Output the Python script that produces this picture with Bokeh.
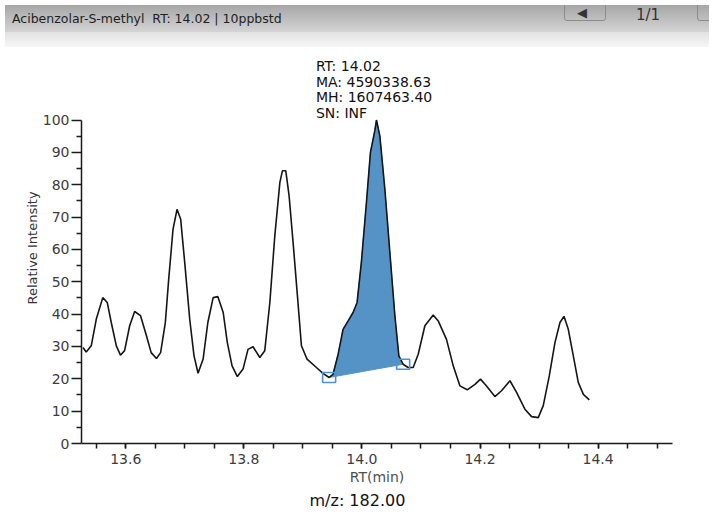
from bokeh.plotting import figure
from bokeh.models import Range1d, FixedTicker, PrintfTickFormatter, Title, Div
from bokeh.layouts import column
from bokeh.embed import file_html
from bokeh.resources import INLINE
from bokeh.core.properties import value

# ---------------- data ----------------
rt = [13.5275, 13.533, 13.5415, 13.550, 13.561, 13.5686, 13.5754, 13.584, 13.591, 13.598,
      13.6066, 13.615, 13.625, 13.635, 13.643, 13.652, 13.659, 13.667, 13.6727, 13.680,
      13.6868, 13.693, 13.6998, 13.7083, 13.7156, 13.7224, 13.731, 13.739, 13.748, 13.756,
      13.765, 13.772, 13.780, 13.789, 13.7986, 13.807, 13.8156, 13.827, 13.8354, 13.844,
      13.8524, 13.861, 13.8653, 13.871, 13.8766, 13.8834, 13.8907, 13.8975, 13.907, 13.9229,
      13.934, 13.9444, 13.951, 13.9597, 13.968, 13.9766, 13.985, 13.9918, 13.999, 14.0076,
      14.0144, 14.0218, 14.0246, 14.0303, 14.0388, 14.0473, 14.0558, 14.0625, 14.0698, 14.0783,
      14.0868, 14.0953, 14.1066, 14.1207, 14.1292, 14.1432, 14.1546, 14.166, 14.1783, 14.1914,
      14.2008, 14.211, 14.2252, 14.2364, 14.2507, 14.2619, 14.276, 14.2873, 14.2986, 14.3071,
      14.3173, 14.3269, 14.3354, 14.3422, 14.3495, 14.358, 14.3664, 14.375, 14.3851]
intensity = [29.7, 28.3, 30.2, 38.4, 45.1, 43.6, 37.4, 30.2, 27.3, 28.7,
             36.4, 40.8, 39.5, 33.3, 28.1, 26.3, 28.1, 37.4, 50.8, 66.2,
             72.4, 69.3, 56.0, 38.4, 27.1, 21.7, 26.1, 37.4, 45.1, 45.4,
             40.5, 31.2, 24.0, 20.7, 23.0, 29.1, 29.9, 26.6, 28.7, 43.6,
             64.2, 80.7, 84.3, 84.3, 76.6, 62.1, 45.7, 30.2, 26.1, 23.5,
             21.7, 20.4, 21.4, 27.6, 35.3, 37.9, 40.5, 43.6, 56.0, 74.5,
             90.0, 96.7, 100.0, 95.1, 78.6, 59.0, 39.5, 27.1, 24.5, 23.5,
             23.5, 27.6, 36.4, 39.7, 37.9, 32.2, 24.0, 17.8, 16.6, 18.3,
             19.9, 17.8, 14.5, 16.3, 19.4, 15.8, 10.6, 8.3, 8.0, 11.7,
             20.9, 31.2, 37.4, 39.3, 35.3, 27.1, 18.9, 15.2, 13.5]

peak_start_rt, peak_start_int = 13.9444, 20.4
peak_end_rt, peak_end_int = 14.0698, 24.5

x_major_ticks = [13.6, 13.8, 14.0, 14.2, 14.4]
x_minor_ticks = [13.55, 13.6, 13.65, 13.7, 13.75, 13.8, 13.85, 13.9, 13.95, 14.0,
                 14.05, 14.1, 14.15, 14.2, 14.25, 14.3, 14.35, 14.4, 14.45, 14.5]
y_major_ticks = [0, 10, 20, 30, 40, 50, 60, 70, 80, 90, 100]
y_minor_ticks = [5, 15, 25, 35, 45, 55, 65, 75, 85, 95]

annotation_lines = ["RT: 14.02", "MA: 4590338.63", "MH: 1607463.40", "SN: INF"]
header_text = "Acibenzolar-S-methyl&nbsp;&nbsp;RT: 14.02 | 10ppbstd"
page_text = "1/1"
mz_text = "m/z: 182.00"
x_label = "RT(min)"
y_label = "Relative Intensity"

# ---------------- header ----------------
header_html = f"""
<div style="position:relative;width:704px;height:42px;overflow:hidden;
background:linear-gradient(to bottom,#a6a6a6 0px,#d4d4d4 27px,#e2e2e2 27px,#f6f6f6 42px);
font-family:'DejaVu Sans';">
<span style="position:absolute;left:7px;top:5px;font-size:12.5px;color:#1e1e1e;white-space:nowrap;">{header_text}</span>
<div style="position:absolute;left:559px;top:-6px;width:42px;height:22px;border:1px solid #8c8c8c;border-radius:3px;"></div>
<span style="position:absolute;left:572px;top:-1px;font-size:13px;color:#333;">&#9664;</span>
<span style="position:absolute;left:631px;top:0px;font-size:15px;color:#333;white-space:nowrap;">{page_text}</span>
<div style="position:absolute;left:692px;top:-6px;width:30px;height:22px;border:1px solid #8c8c8c;border-radius:3px;"></div>
</div>
"""
header = Div(text=header_html, width=704, height=42)

# ---------------- figure ----------------
p = figure(width=704, height=461,
           x_range=Range1d(13.525, 14.526), y_range=Range1d(0, 120.87),
           output_backend="svg", toolbar_location=None,
           min_border_left=81, min_border_right=32, min_border_top=0, min_border_bottom=70,
           background_fill_color="white", border_fill_color="white",
           outline_line_color=None)
p.grid.visible = False

# integrated peak area
fill_x = [peak_start_rt] + [r for r in rt if peak_start_rt < r < peak_end_rt] + [peak_end_rt]
fill_y = [peak_start_int] + [v for r, v in zip(rt, intensity) if peak_start_rt < r < peak_end_rt] + [peak_end_int]
p.patch(fill_x, fill_y, fill_color="#5593c7", line_color="#5593c7", line_width=1)

p.line(rt, intensity, line_color="#151515", line_width=1.6)

p.rect(x=[peak_start_rt, peak_end_rt], y=[peak_start_int, peak_end_int],
       width=13, height=10, width_units="screen", height_units="screen",
       fill_color=None, line_color="#4d92d6", line_width=1.6)

anno_x = 13.922
anno_top = 116.75
anno_step = 4.85
p.text(x=[anno_x] * len(annotation_lines),
       y=[anno_top - i * anno_step for i in range(len(annotation_lines))],
       text=annotation_lines, text_font=value("DejaVu Sans"), text_font_size="14px",
       text_baseline="alphabetic", text_align="left", text_color="#111111")

# axes
xa = p.xaxis[0]
xa.ticker = FixedTicker(ticks=x_major_ticks, minor_ticks=x_minor_ticks)
xa.formatter = PrintfTickFormatter(format="%.1f")
xa.axis_label = x_label
xa.axis_label_text_font = "DejaVu Sans"
xa.axis_label_text_font_size = "14px"
xa.axis_label_text_font_style = "normal"
xa.axis_label_text_color = "#505050"
xa.axis_label_standoff = 2
xa.major_label_text_font = "DejaVu Sans"
xa.major_label_text_font_size = "14px"
xa.major_label_text_color = "#3c3c3c"
xa.major_label_standoff = 5
xa.major_tick_out = 5
xa.major_tick_in = 0
xa.minor_tick_out = 5
xa.minor_tick_in = 0
xa.axis_line_color = "#1a1a1a"
xa.axis_line_width = 1.5
xa.major_tick_line_color = "#1a1a1a"
xa.minor_tick_line_color = "#1a1a1a"
xa.major_tick_line_width = 1.5
xa.minor_tick_line_width = 1.5

ya = p.yaxis[0]
ya.ticker = FixedTicker(ticks=y_major_ticks, minor_ticks=y_minor_ticks)
ya.bounds = (0, 100)
ya.axis_label = y_label
ya.axis_label_text_font = "DejaVu Sans"
ya.axis_label_text_font_size = "13px"
ya.axis_label_text_font_style = "normal"
ya.axis_label_text_color = "#333333"
ya.axis_label_standoff = 0
ya.major_label_text_font = "DejaVu Sans"
ya.major_label_text_font_size = "14px"
ya.major_label_text_color = "#3c3c3c"
ya.major_label_standoff = 2
ya.major_tick_out = 10
ya.major_tick_in = 0
ya.minor_tick_out = 5
ya.minor_tick_in = 0
ya.axis_line_color = "#1a1a1a"
ya.axis_line_width = 1.5
ya.major_tick_line_color = "#1a1a1a"
ya.minor_tick_line_color = "#1a1a1a"
ya.major_tick_line_width = 1.5
ya.minor_tick_line_width = 1.5

mz_title = Title(text=mz_text, align="left", offset=228, text_font="DejaVu Sans",
                 text_font_size="16px", text_font_style="normal", text_color="#111111",
                 standoff=2)
p.add_layout(mz_title, "below")

layout = column(header, p)
open("out.html", "w").write(file_html(layout, INLINE))
